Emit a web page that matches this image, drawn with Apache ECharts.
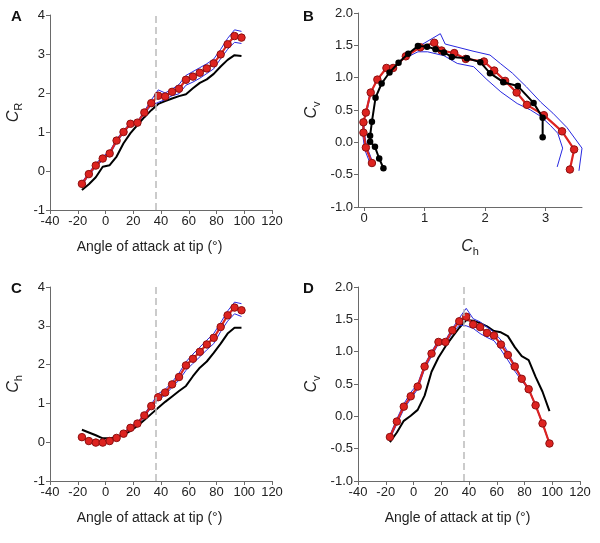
<!DOCTYPE html>
<html>
<head>
<meta charset="utf-8">
<script src="https://cdn.jsdelivr.net/npm/echarts@6/dist/echarts.min.js"></script>
<style>
html,body{margin:0;padding:0;background:#fff;}
#main{width:600px;height:543px;}
</style>
</head>
<body>
<div id="main"></div>
<script>
// Angle of attack at tip (deg)
const angles = [-17,-12,-7,-2,3,8,13,18,23,28,33,38,43,48,53,58,63,68,73,78,83,88,93,98];
const stallAngle = 36;

// Panel A: C_R
const crRed   = [-0.33,-0.08,0.14,0.32,0.45,0.78,1.00,1.21,1.24,1.50,1.74,1.93,1.91,2.03,2.11,2.34,2.42,2.52,2.63,2.76,2.99,3.25,3.46,3.42];
const crUpper = [-0.29,-0.04,0.19,0.37,0.50,0.82,1.04,1.24,1.27,1.54,1.82,2.08,2.00,2.10,2.22,2.45,2.55,2.65,2.75,2.87,3.12,3.40,3.62,3.58];
const crLower = [-0.37,-0.11,0.10,0.28,0.41,0.74,0.97,1.18,1.21,1.46,1.68,1.76,1.83,1.93,1.98,2.20,2.28,2.38,2.50,2.62,2.88,3.12,3.30,3.27];
const crBlack = [-0.49,-0.34,-0.16,0.11,0.15,0.37,0.71,0.97,1.18,1.38,1.56,1.72,1.79,1.86,1.92,1.97,2.12,2.26,2.35,2.49,2.68,2.85,2.97,2.95];

// Panel C: C_h
const chRed   = [0.13,0.03,-0.01,-0.01,0.03,0.11,0.22,0.37,0.48,0.69,0.93,1.16,1.28,1.49,1.68,1.98,2.15,2.33,2.52,2.69,2.97,3.27,3.47,3.40];
const chUpper = [0.15,0.05,0.01,0.01,0.05,0.13,0.25,0.40,0.52,0.73,0.98,1.25,1.36,1.55,1.78,2.07,2.27,2.45,2.63,2.80,3.08,3.38,3.61,3.57];
const chLower = [0.11,0.01,-0.03,-0.03,0.01,0.09,0.19,0.34,0.45,0.65,0.89,1.10,1.21,1.42,1.60,1.85,2.03,2.20,2.38,2.54,2.85,3.12,3.31,3.24];
const chBlack = [0.32,0.25,0.18,0.10,0.10,0.13,0.19,0.29,0.42,0.57,0.73,0.89,1.04,1.18,1.32,1.45,1.70,1.92,2.08,2.30,2.54,2.80,2.95,2.95];

// Panel D: C_v
const cvRed   = [-0.32,-0.08,0.15,0.31,0.46,0.77,0.97,1.15,1.15,1.33,1.47,1.54,1.42,1.38,1.29,1.25,1.11,0.95,0.77,0.58,0.42,0.17,-0.11,-0.42];
const cvUpper = [-0.29,-0.04,0.19,0.37,0.50,0.80,1.00,1.18,1.18,1.36,1.52,1.67,1.51,1.46,1.38,1.30,1.18,0.99,0.79,0.60,0.43,0.18,-0.10,-0.41];
const cvLower = [-0.35,-0.12,0.11,0.27,0.42,0.73,0.93,1.12,1.12,1.29,1.41,1.40,1.36,1.28,1.22,1.17,1.03,0.87,0.70,0.55,0.41,0.16,-0.12,-0.43];
const cvBlack = [-0.40,-0.25,-0.07,0.01,0.10,0.32,0.69,0.91,1.08,1.23,1.37,1.49,1.48,1.44,1.39,1.32,1.30,1.24,1.07,0.93,0.87,0.61,0.38,0.08];

// Panel B: blue envelope lines (C_h, C_v)
const bOuterCh = [0.14,0.04,0.00,0.00,0.05,0.12,0.24,0.39,0.50,0.72,0.97,1.26,1.34,1.55,1.80,2.08,2.25,2.45,2.68,2.92,3.12,3.35,3.60,3.55];
const bOuterCv = [-0.30,-0.05,0.18,0.35,0.49,0.80,0.99,1.17,1.17,1.36,1.52,1.68,1.52,1.47,1.41,1.35,1.22,1.07,0.86,0.62,0.45,0.23,-0.09,-0.44];
const bInnerCh = [0.11,0.01,-0.02,-0.02,0.02,0.09,0.19,0.34,0.45,0.65,0.89,1.05,1.32,1.54,1.81,2.03,2.26,2.53,2.75,2.92,3.08,3.20,3.28,3.19];
const bInnerCv = [-0.35,-0.11,0.11,0.27,0.42,0.73,0.93,1.12,1.12,1.29,1.40,1.40,1.34,1.22,1.17,0.97,0.78,0.60,0.50,0.40,0.26,0.14,-0.09,-0.38];

// Tick labels
const angleTicks = [-40,-20,0,20,40,60,80,100,120];
const chTicksB = [0,1,2,3];

const FONT = 'Liberation Sans, Arial, sans-serif';
const RED = '#dd2320';
const BLUE = '#2828e0';
const pairs = (xs, ys) => xs.map((x, i) => [x, ys[i]]);

const axisCommon = {
  axisLine: {show: true, onZero: false, lineStyle: {color: '#6a6a6a', width: 1}},
  axisTick: {show: true, length: 4, lineStyle: {color: '#6a6a6a'}},
  axisLabel: {color: '#222', fontSize: 13, fontFamily: FONT, margin: 5},
  splitLine: {show: false},
  nameTextStyle: {color: '#222', fontSize: 14, fontFamily: FONT}
};
function sym(main, sub) {
  return {
    name: '{c|' + main + '}{s|' + sub + '}',
    nameTextStyle: {
      color: '#222', fontFamily: FONT,
      rich: {
        c: {fontSize: 16, fontStyle: 'italic', fontFamily: FONT, color: '#222', lineHeight: 20, verticalAlign: 'middle'},
        s: {fontSize: 11, fontFamily: FONT, color: '#222', lineHeight: 11, verticalAlign: 'bottom'}
      }
    }
  };
}
function angleAxis(gridIndex) {
  return Object.assign({}, axisCommon, {
    type: 'value', gridIndex, min: angleTicks[0], max: angleTicks[angleTicks.length - 1], interval: 20,
    name: 'Angle of attack at tip (°)', nameLocation: 'middle', nameGap: 30,
    nameTextStyle: {color: '#222', fontSize: 14, fontFamily: FONT, padding: [0, 23, 0, 0]}
  });
}
function yAxis(gridIndex, min, max, interval, label, gap, dec) {
  const s = sym('C', label);
  const a = Object.assign({}, axisCommon, {
    type: 'value', gridIndex, min, max, interval,
    name: s.name, nameLocation: 'middle', nameGap: gap, nameTextStyle: s.nameTextStyle
  });
  a.axisLabel = Object.assign({}, axisCommon.axisLabel, {formatter: v => dec ? v.toFixed(1) : String(v)});
  return a;
}
const dash = {
  silent: true, symbol: ['none', 'none'], label: {show: false},
  lineStyle: {color: '#bbb', type: [7, 4], width: 1.5},
  data: [{xAxis: stallAngle}]
};
function blueLine(xi, yi, data) {
  return {type: 'line', xAxisIndex: xi, yAxisIndex: yi, data, showSymbol: false, symbol: 'none',
          lineStyle: {color: BLUE, width: 1}, z: 3, silent: true};
}
function blackLine(xi, yi, data, markers) {
  return {type: 'line', xAxisIndex: xi, yAxisIndex: yi, data,
          symbol: markers ? 'circle' : 'none', showSymbol: !!markers, symbolSize: 6.5,
          itemStyle: {color: '#000'}, lineStyle: {color: '#000', width: 2}, z: markers ? 5 : 2, silent: true};
}
function redLine(xi, yi, data, withDash) {
  const s = {type: 'line', xAxisIndex: xi, yAxisIndex: yi, data, symbol: 'circle', symbolSize: 7.5,
          itemStyle: {color: RED, borderColor: '#8e1010', borderWidth: 1},
          lineStyle: {color: RED, width: 2.2}, z: 4, silent: true};
  if (withDash) s.markLine = dash;
  return s;
}

const bx = Object.assign({}, axisCommon, {
  type: 'value', gridIndex: 1, min: -0.1, max: 3.6,
  axisLabel: Object.assign({}, axisCommon.axisLabel, {customValues: chTicksB, formatter: v => String(v)}),
  axisTick: Object.assign({}, axisCommon.axisTick, {customValues: chTicksB}),
  nameLocation: 'middle', nameGap: 30
});
const bs = sym('C', 'h');
bx.name = bs.name; bx.nameTextStyle = bs.nameTextStyle;

const option = {
  animation: false,
  backgroundColor: '#fff',
  textStyle: {fontFamily: FONT},
  title: [
    {text: 'A', left: 11, top: 9},
    {text: 'B', left: 303, top: 9},
    {text: 'C', left: 11, top: 281},
    {text: 'D', left: 303, top: 281}
  ].map(t => Object.assign(t, {padding: 0, textStyle: {fontSize: 15, fontWeight: 'bold', color: '#111', fontFamily: FONT}})),
  grid: [
    {left: 50, top: 15, width: 222, height: 195, outerBoundsMode: 'none', containLabel: false},
    {left: 358, top: 13, width: 224, height: 194, outerBoundsMode: 'none', containLabel: false},
    {left: 50, top: 287, width: 222, height: 194, outerBoundsMode: 'none', containLabel: false},
    {left: 358, top: 287, width: 222, height: 194, outerBoundsMode: 'none', containLabel: false}
  ],
  xAxis: [angleAxis(0), bx, angleAxis(2), angleAxis(3)],
  yAxis: [
    yAxis(0, -1, 4, 1, 'R', 26, false),
    yAxis(1, -1, 2, 0.5, 'v', 36, true),
    yAxis(2, -1, 4, 1, 'h', 26, false),
    yAxis(3, -1, 2, 0.5, 'v', 36, true)
  ],
  series: [
    // A
    blackLine(0, 0, pairs(angles, crBlack)),
    blueLine(0, 0, pairs(angles, crUpper)),
    blueLine(0, 0, pairs(angles, crLower)),
    redLine(0, 0, pairs(angles, crRed), true),
    // B
    blueLine(1, 1, pairs(bOuterCh, bOuterCv)),
    blueLine(1, 1, pairs(bInnerCh, bInnerCv)),
    redLine(1, 1, pairs(chRed, cvRed), false),
    blackLine(1, 1, pairs(chBlack, cvBlack), true),
    // C
    blackLine(2, 2, pairs(angles, chBlack)),
    blueLine(2, 2, pairs(angles, chUpper)),
    blueLine(2, 2, pairs(angles, chLower)),
    redLine(2, 2, pairs(angles, chRed), true),
    // D
    blackLine(3, 3, pairs(angles, cvBlack)),
    blueLine(3, 3, pairs(angles, cvUpper)),
    blueLine(3, 3, pairs(angles, cvLower)),
    redLine(3, 3, pairs(angles, cvRed), true)
  ]
};
const chart = echarts.init(document.getElementById('main'), null, {renderer: 'canvas'});
chart.setOption(option);
</script>
</body>
</html>
